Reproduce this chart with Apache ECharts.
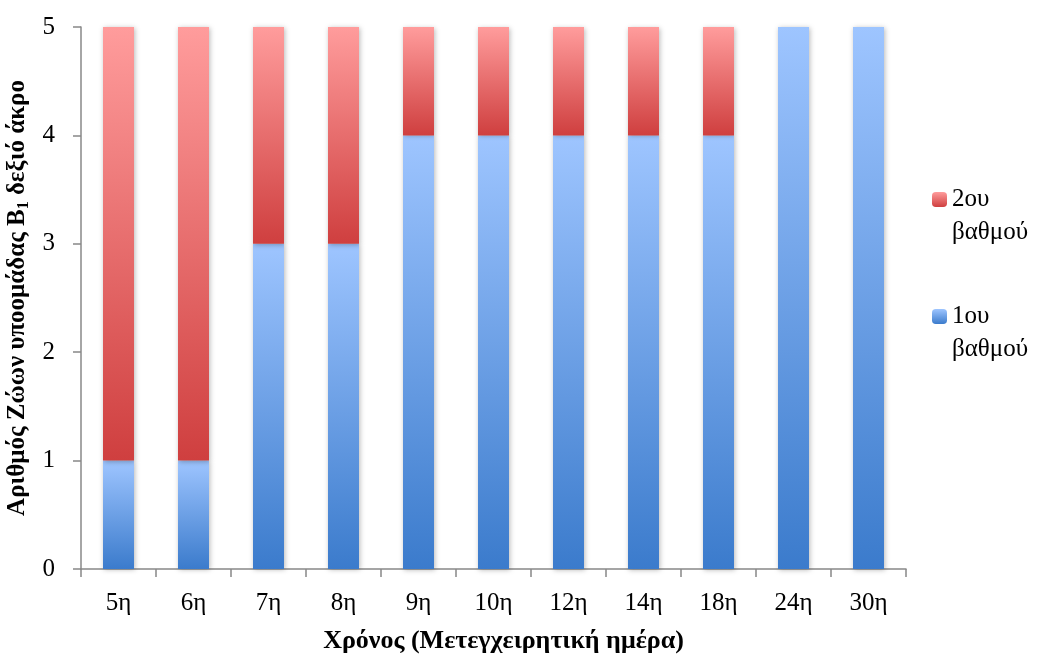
<!DOCTYPE html>
<html>
<head>
<meta charset="utf-8">
<script src="https://cdn.jsdelivr.net/npm/echarts@6/dist/echarts.min.js"></script>
<style>html,body{margin:0;padding:0;background:#fff;}#c{width:1039px;height:657px;}</style>
</head>
<body>
<div id="c"></div>
<script>
var categories = ['5η','6η','7η','8η','9η','10η','12η','14η','18η','24η','30η'];
var firstDegree = [1,1,3,3,4,4,4,4,4,5,5];
var secondDegree = [4,4,2,2,1,1,1,1,1,0,0];
var yTicks = [0,1,2,3,4,5];

var FONT = '"Liberation Serif", "DejaVu Serif", serif';
function grad(top, bottom){
  return new echarts.graphic.LinearGradient(0,0,0,1,[{offset:0,color:top},{offset:1,color:bottom}]);
}
var shadow = {shadowColor:'rgba(0,0,0,0.28)', shadowBlur:5, shadowOffsetX:1, shadowOffsetY:1};

var chart = echarts.init(document.getElementById('c'), null, {renderer:'canvas'});
chart.setOption({
  animation:false,
  backgroundColor:'#fff',
  grid:{left:81, right:133, top:27, bottom:88, containLabel:false, outerBoundsMode:'none'},
  legend:{
    orient:'vertical', left:927, top:145,
    itemWidth:15, itemHeight:15, itemGap:18,
    data:['2ου βαθμού','1ου βαθμού'],
    formatter:function(n){ return ' \n' + n.replace(' ', '\n'); },
    textStyle:{fontFamily:FONT, fontSize:25, color:'#000', lineHeight:33}
  },
  xAxis:{
    type:'category', data:categories,
    axisLine:{lineStyle:{color:'#888', width:1.5}},
    axisTick:{show:true, length:8, alignWithLabel:false, lineStyle:{color:'#888', width:1.5}},
    axisLabel:{fontFamily:FONT, fontSize:25, color:'#000', margin:22},
    name:'Χρόνος (Μετεγχειρητική ημέρα)', nameLocation:'middle', nameGap:59,
    nameTextStyle:{fontFamily:FONT, fontSize:26, fontWeight:'bold', color:'#000', padding:[0,0,0,20]}
  },
  yAxis:{
    type:'value', min:yTicks[0], max:yTicks[yTicks.length-1], interval:1,
    axisLine:{show:true, lineStyle:{color:'#888', width:1.5}},
    axisTick:{show:true, length:8, lineStyle:{color:'#888', width:1.5}},
    splitLine:{show:false},
    axisLabel:{fontFamily:FONT, fontSize:25, color:'#000', margin:26},
    name:'{t|Αριθμός Ζώων υποομάδας B}{s|1}{t| δεξιό άκρο}', nameLocation:'middle', nameGap:45,
    nameTextStyle:{
      rich:{
        t:{fontFamily:FONT, fontSize:25, fontWeight:'bold', color:'#000'},
        s:{fontFamily:FONT, fontSize:16, fontWeight:'bold', color:'#000', padding:[12,0,0,0]}
      }
    }
  },
  series:[
    {name:'1ου βαθμού', type:'bar', stack:'a', barWidth:31, data:firstDegree,
     itemStyle:Object.assign({color:grad('#9EC5FF','#3B7BCC')}, shadow)},
    {name:'2ου βαθμού', type:'bar', stack:'a', barWidth:31, data:secondDegree,
     itemStyle:Object.assign({color:grad('#FF9C9C','#CF3F3F')}, shadow)}
  ]
});
</script>
</body>
</html>
